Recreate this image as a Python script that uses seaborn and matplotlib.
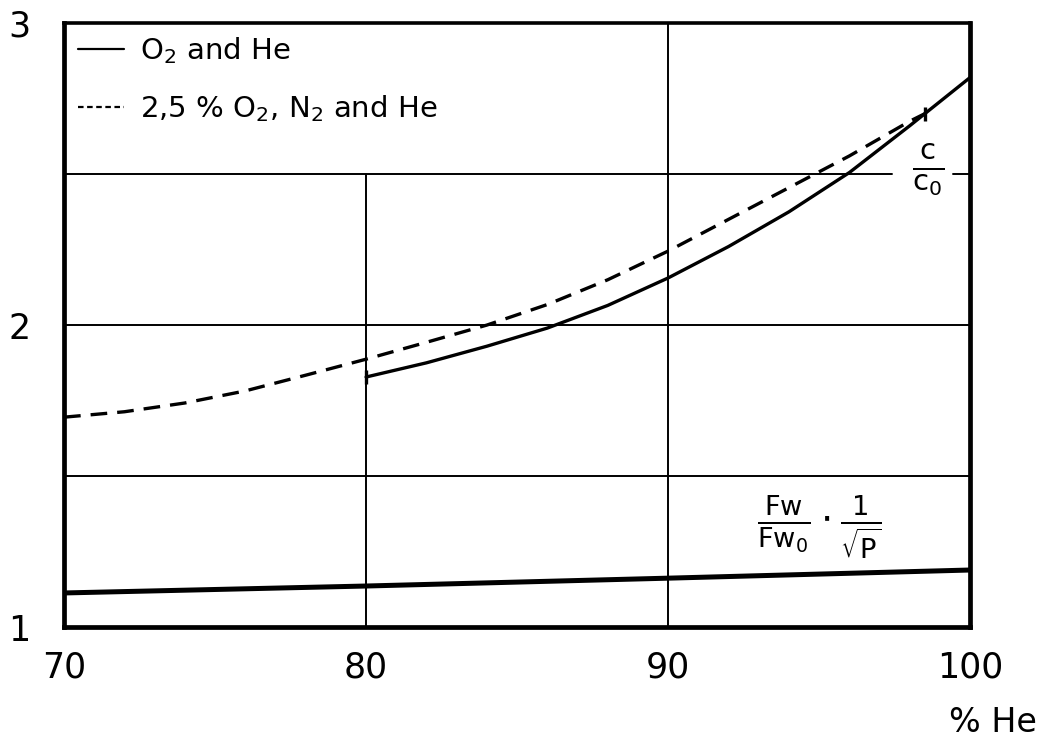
import numpy as np
import pandas as pd
import matplotlib
matplotlib.use("Agg")
import matplotlib.pyplot as plt
from matplotlib.lines import Line2D
import seaborn as sns

# ---- data ----
he_solid = [80, 82, 84, 86, 88, 90, 92, 94, 96, 98, 100]
c_solid = [1.828, 1.875, 1.93, 1.99, 2.065, 2.156, 2.26, 2.375, 2.505, 2.66, 2.82]

he_dashed = [70, 72, 74, 76, 78, 80, 82, 84, 86, 88, 90, 92, 94, 96, 98, 98.5]
c_dashed = [1.695, 1.713, 1.742, 1.782, 1.834, 1.887, 1.943, 2.00, 2.068, 2.15, 2.245,
            2.35, 2.455, 2.56, 2.675, 2.70]

he_fw = [70, 80, 90, 100]
fw_vals = [1.113, 1.136, 1.162, 1.189]

x_ticks = [70, 80, 90, 100]
y_ticks = [1, 2, 3]
legend_labels = ["O$_2$ and He", "2,5 % O$_2$, N$_2$ and He"]

sns.set_style("white")
plt.rcParams["font.family"] = ["DejaVu Sans"]
plt.rcParams["mathtext.fontset"] = "dejavusans"
plt.rcParams["text.color"] = "black"
plt.rcParams["xtick.color"] = "black"
plt.rcParams["ytick.color"] = "black"
plt.rcParams["axes.labelcolor"] = "black"

fig = plt.figure(figsize=(10.5, 7.43), dpi=100)
ax = fig.add_axes([0.061, 0.156, 0.863, 0.813])

df_s = pd.DataFrame({"x": he_solid, "y": c_solid})
df_d = pd.DataFrame({"x": he_dashed, "y": c_dashed})
df_f = pd.DataFrame({"x": he_fw, "y": fw_vals})

# grid lines (partial at 80, gap at 2.5 for the c/c0 label)
glw = 1.4
ax.axvline(80, ymin=0, ymax=0.75, color="black", lw=glw, zorder=1)
ax.axvline(90, color="black", lw=glw, zorder=1)
ax.axhline(1.5, color="black", lw=glw, zorder=1)
ax.axhline(2.0, color="black", lw=glw, zorder=1)
ax.axhline(2.5, xmin=0, xmax=0.914, color="black", lw=glw, zorder=1)
ax.axhline(2.5, xmin=0.981, xmax=1, color="black", lw=glw, zorder=1)

sns.lineplot(data=df_s, x="x", y="y", ax=ax, color="black", lw=2.4,
             marker="|", markevery=[0], markersize=10, markeredgewidth=2.4,
             markeredgecolor="black", markerfacecolor="black", zorder=3)
sns.lineplot(data=df_d, x="x", y="y", ax=ax, color="black", lw=2.4,
             marker="|", markevery=[len(he_dashed) - 1],
             markersize=10, markeredgewidth=2.4,
             markeredgecolor="black", markerfacecolor="black", zorder=3)
ax.lines[-1].set_dashes((5, 3))
sns.lineplot(data=df_f, x="x", y="y", ax=ax, color="black", lw=3.6, zorder=3)

ax.set_xlim(70, 100)
ax.set_ylim(1, 3)
ax.set_xticks(x_ticks)
ax.set_yticks(y_ticks)
ax.set_xticklabels([str(v) for v in x_ticks])
ax.set_yticklabels([str(v) for v in y_ticks])
ax.tick_params(axis="both", length=0, labelsize=25, colors="black")
ax.tick_params(axis="x", pad=17)
ax.tick_params(axis="y", pad=24)
ax.set_xlabel("")
ax.set_ylabel("")

for side in ["left", "right", "top", "bottom"]:
    ax.spines[side].set_visible(True)
    ax.spines[side].set_color("black")
    ax.spines[side].set_linewidth(3.4)
ax.spines["top"].set_linewidth(2.6)

# curve labels
ax.text(98.6, 2.515, r"$\frac{\mathrm{c}}{\mathrm{c}_0}$", fontsize=30,
        ha="center", va="center")
ax.text(95.0, 1.33, r"$\frac{\mathrm{Fw}}{\mathrm{Fw}_0}\cdot\frac{1}{\sqrt{\mathrm{P}}}$",
        fontsize=28, ha="center", va="center")

# legend
handles = [Line2D([0], [0], color="black", lw=1.6),
           Line2D([0], [0], color="black", lw=1.6, dashes=(2.5, 1.6))]
leg = ax.legend(handles, legend_labels, loc="upper left", bbox_to_anchor=(0.015, 0.980),
                frameon=False, fontsize=21, handlelength=1.6, handletextpad=0.55,
                labelspacing=0.93, borderaxespad=0, borderpad=0)
for t in leg.get_texts():
    t.set_color("black")

fig.text(993 / 1050, 1 - 723 / 743, "% He", fontsize=24, ha="center", va="center")

fig.savefig("out.png", dpi=100, facecolor="white")
